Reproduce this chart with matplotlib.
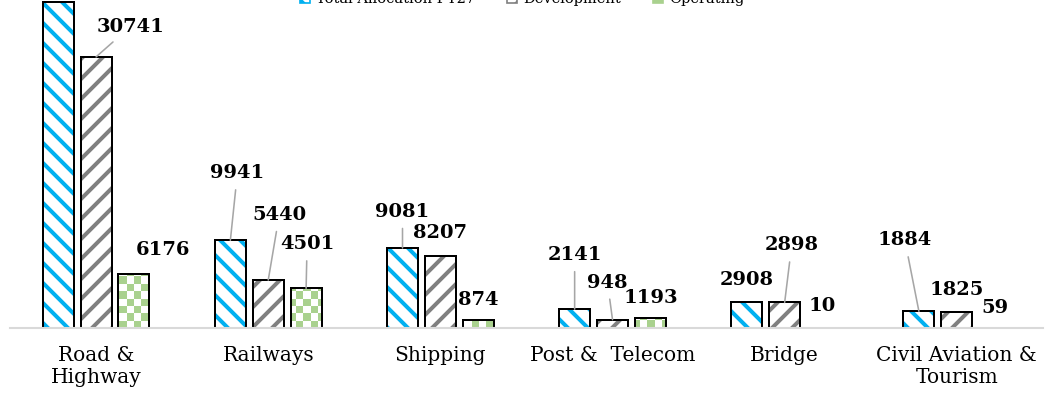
import matplotlib
matplotlib.use("Agg")
import matplotlib.pyplot as plt
import numpy as np
from matplotlib.patches import Patch

categories = ["Road &\nHighway", "Railways", "Shipping", "Post &  Telecom",
              "Bridge", "Civil Aviation &\nTourism"]
total = [36917, 9941, 9081, 2141, 2908, 1884]
development = [30741, 5440, 8207, 948, 2898, 1825]
operating = [6176, 4501, 874, 1193, 10, 59]
series_names = ["Total Allocation FY27", "Development", "Operating"]

DPI = 120
plt.rcParams["font.family"] = "DejaVu Serif"
plt.rcParams["hatch.linewidth"] = 2.4

BLUE = "#00B0F0"
GRAY = "#808080"
GREEN = "#A9D18E"
LEADER = "#A6A6A6"

fig = plt.figure(figsize=(1055 / DPI, 402 / DPI), dpi=DPI)
ax = fig.add_axes([0.0095, 0.184, 0.979, 0.816])

x = np.arange(len(categories))
w = 0.18
step = 0.22
ax.set_xlim(-0.5, 5.5)
ax.set_ylim(0, 37190)

# hatched bars: hatch drawn first, then the black outline on top
ax.bar(x - step, total, w, color="white", edgecolor=BLUE, hatch="\\\\", lw=0)
ax.bar(x - step, total, w, fill=False, edgecolor="black", lw=1.2)
ax.bar(x, development, w, color="white", edgecolor=GRAY, hatch="//", lw=0)
ax.bar(x, development, w, fill=False, edgecolor="black", lw=1.2)
green_bars = ax.bar(x + step, operating, w, color="white", lw=0)

# checkerboard fill for the operating bars
ncols, nrows = 141, 45
checker = (np.add.outer(np.arange(nrows), np.arange(ncols)) % 2).astype(float)
cmap = matplotlib.colors.ListedColormap(["white", GREEN])
for b in green_bars:
    im = ax.imshow(checker, cmap=cmap, extent=(-0.5, 5.5, 0, 37190),
                   aspect="auto", interpolation="nearest", zorder=1.5)
    im.set_clip_path(b)
ax.bar(x + step, operating, w, fill=False, edgecolor="black", lw=1.2, zorder=2)
ax.set_xlim(-0.5, 5.5)
ax.set_ylim(0, 37190)

# label offsets in pixels (dx, dy) and whether a leader line is drawn
offsets = [
    [(0, 22), (7, 67), (0, 36), (0, 54), (0, 22), (-14, 71)],
    [(34, 30), (11, 65), (0, 23), (-5, 37), (7, 57), (0, 22)],
    [(29, 24), (1, 44), (0, 20), (0, 20), (0, 22), (0, 20)],
]
leaders = [
    [False, True, True, True, False, True],
    [True, True, False, True, True, False],
    [False, True, False, False, False, False],
]
for s, vals in enumerate([total, development, operating]):
    for i, v in enumerate(vals):
        xi = x[i] + (s - 1) * step
        kw = {}
        if leaders[s][i]:
            kw["arrowprops"] = dict(arrowstyle="-", color=LEADER, lw=0.95,
                                    shrinkA=2.5, shrinkB=0)
        ax.annotate(f"{v}", xy=(xi, v), xytext=offsets[s][i],
                    textcoords="offset pixels", ha="center", va="center",
                    fontsize=11.7, fontweight="bold", color="black", **kw)

for side in ["left", "right", "top"]:
    ax.spines[side].set_visible(False)
ax.spines["bottom"].set_color("#D9D9D9")
ax.spines["bottom"].set_linewidth(1.25)
ax.set_yticks([])
ax.set_xticks(x, categories, fontsize=12.1, linespacing=1.2)
ax.tick_params(axis="x", length=0, pad=10.8)

handles = [Patch(facecolor="white", edgecolor=BLUE, hatch="\\\\"),
           Patch(facecolor="white", edgecolor=GRAY, hatch="//"),
           Patch(facecolor=GREEN, edgecolor=GREEN)]
fig.legend(handles, series_names, loc="center", bbox_to_anchor=(0.495, 1.003),
           ncol=3, frameon=False, fontsize=8.75, handlelength=0.7,
           handleheight=0.7, columnspacing=2.2, handletextpad=0.4)

fig.savefig("out.png", dpi=DPI)
